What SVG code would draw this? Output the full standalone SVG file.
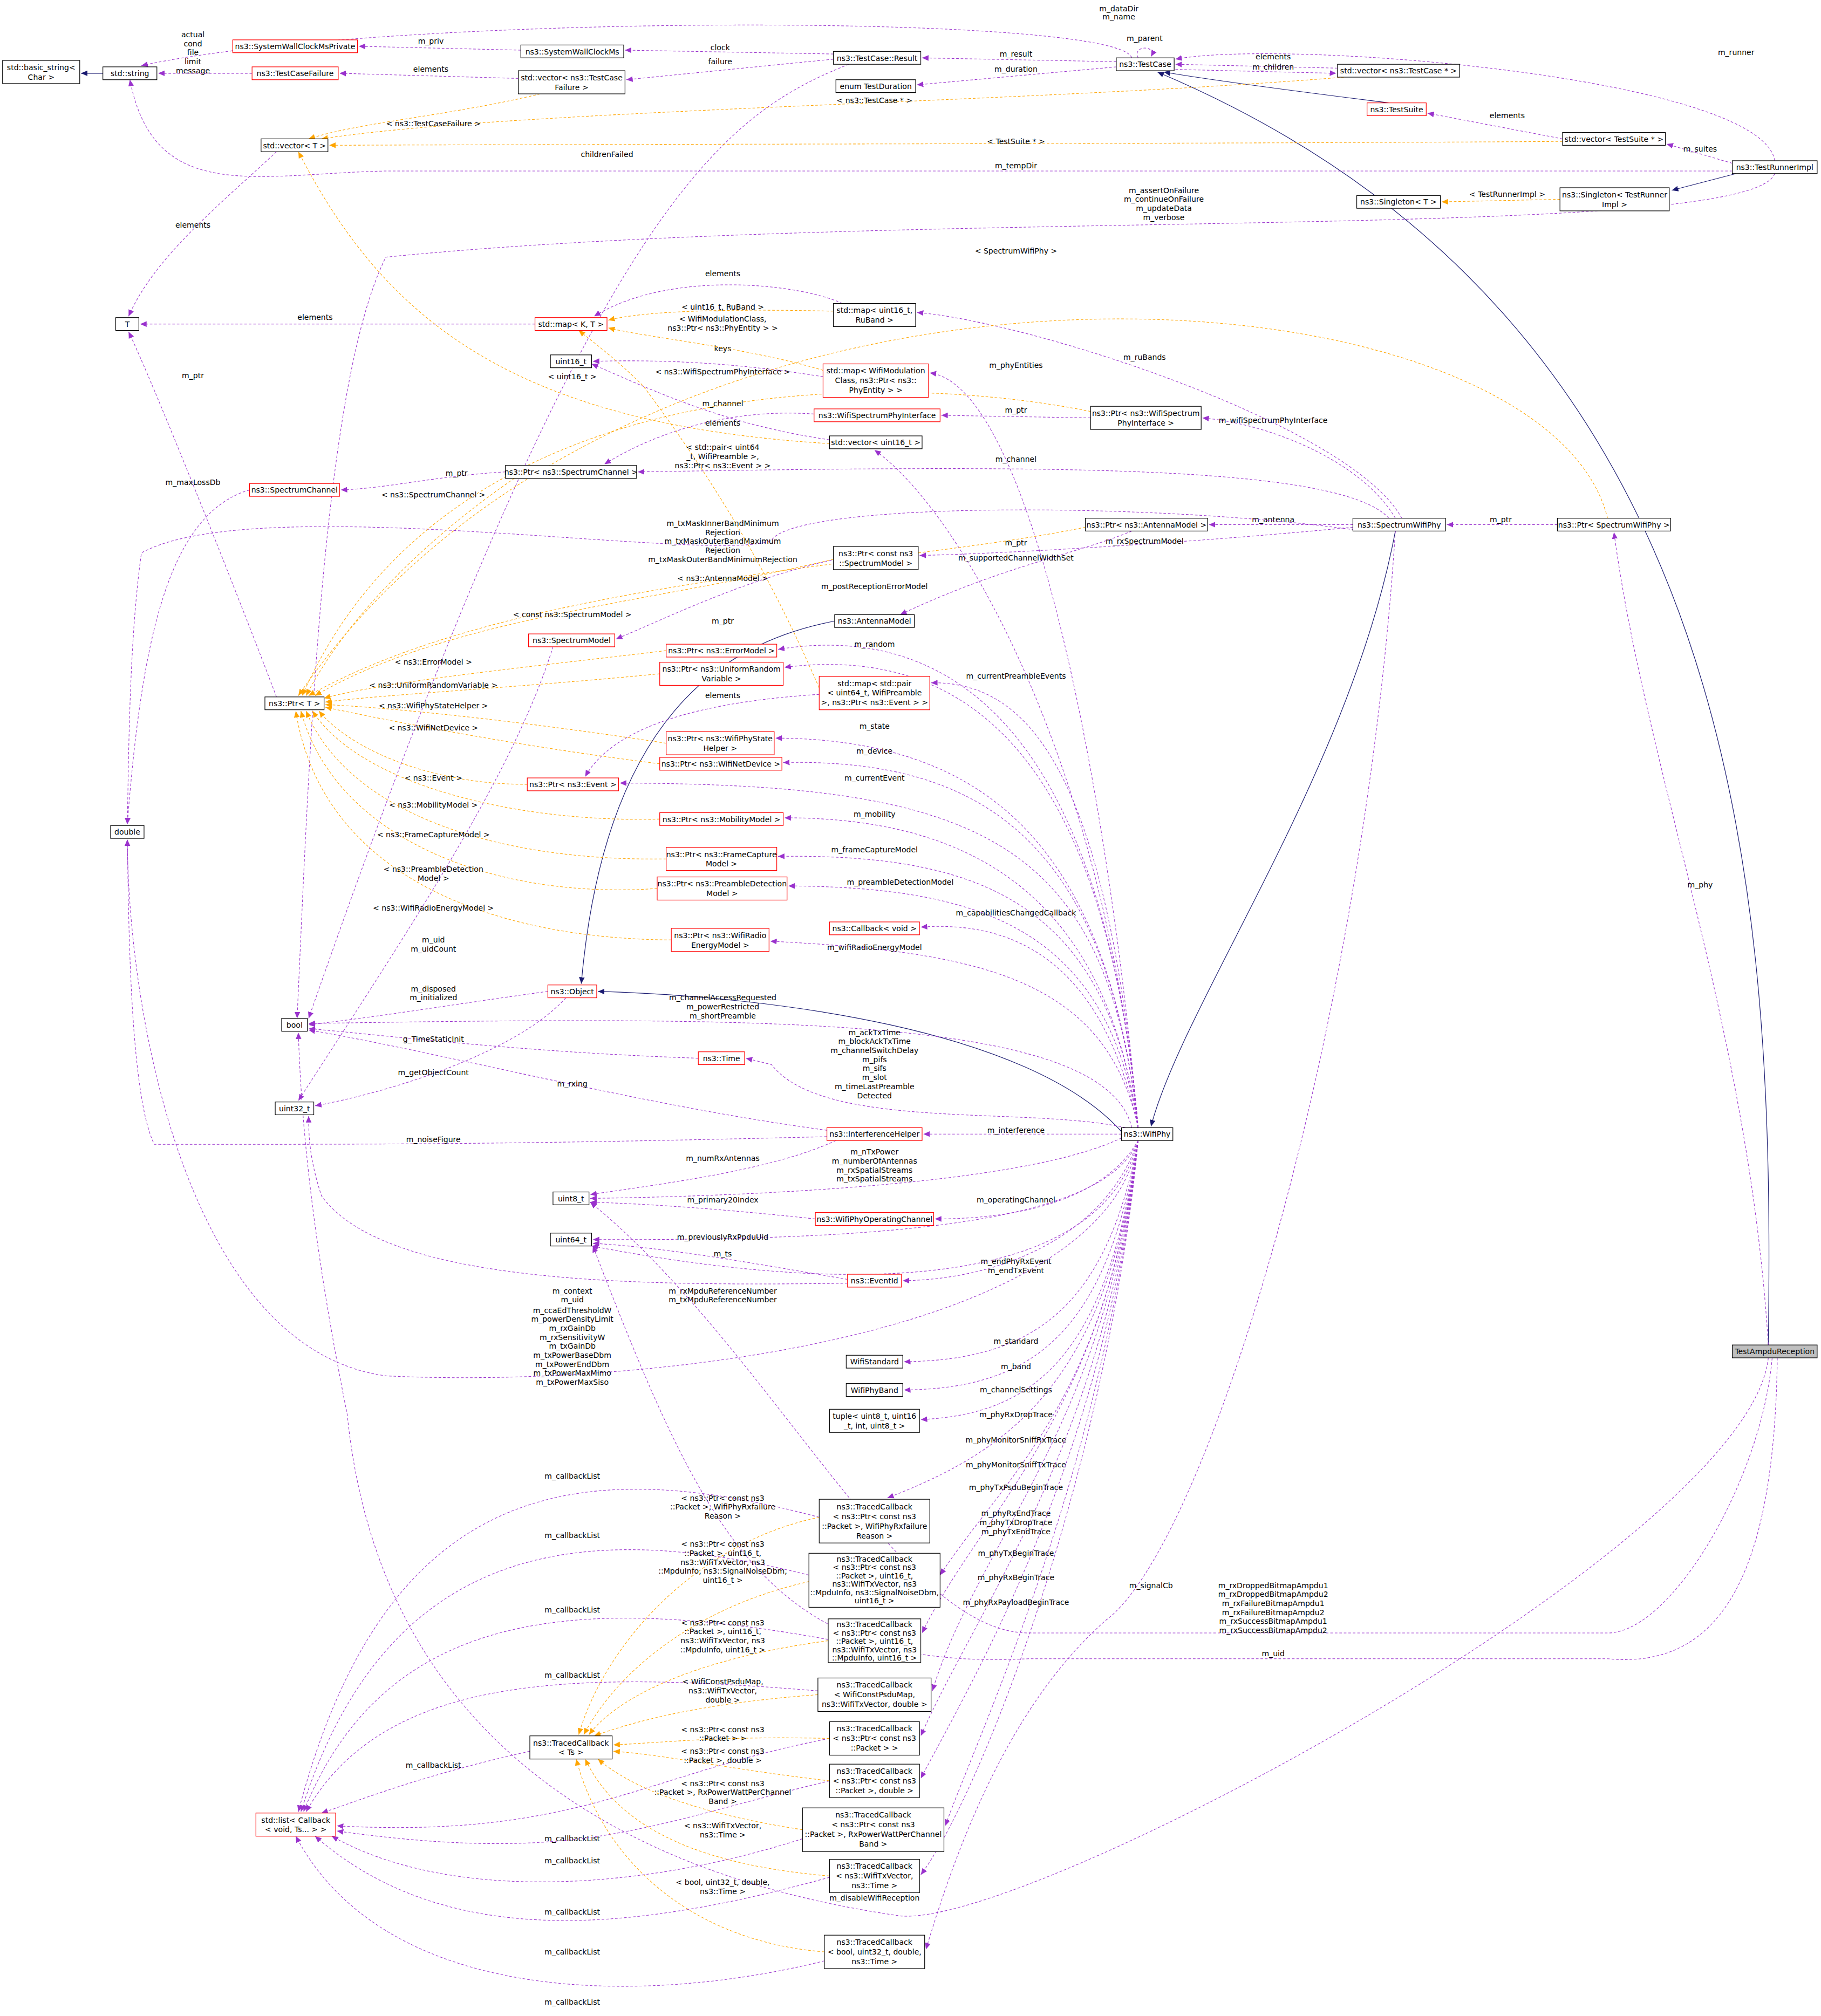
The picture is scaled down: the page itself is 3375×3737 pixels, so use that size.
<svg xmlns="http://www.w3.org/2000/svg" width="3375" height="3737" viewBox="0 0 3375 3737">
<defs>
<style>
text{font-family:"DejaVu Sans","Liberation Sans",sans-serif;font-size:5.9px;fill:#000;text-anchor:middle}
.n rect{fill:#fff;stroke:#000;stroke-width:0.5}
.r rect{fill:#fff;stroke:#ff0000;stroke-width:0.5}
.g rect{fill:#bfbfbf;stroke:#000;stroke-width:0.5}
.p{fill:none;stroke:#9a32cd;stroke-width:0.45;stroke-dasharray:2,1.5;marker-end:url(#ap)}
.o{fill:none;stroke:#ffa500;stroke-width:0.45;stroke-dasharray:2,1.5;marker-end:url(#ao)}
.b{fill:none;stroke:#191970;stroke-width:0.5;marker-end:url(#ab)}
</style>
<marker id="ap" markerWidth="6" markerHeight="6" refX="5" refY="3" orient="auto" markerUnits="userSpaceOnUse"><path d="M0,0.8 L5,3 L0,5.2 z" fill="#9a32cd"/></marker>
<marker id="ao" markerWidth="6" markerHeight="6" refX="5" refY="3" orient="auto" markerUnits="userSpaceOnUse"><path d="M0,0.8 L5,3 L0,5.2 z" fill="#ffa500"/></marker>
<marker id="ab" markerWidth="6" markerHeight="6" refX="5" refY="3" orient="auto" markerUnits="userSpaceOnUse"><path d="M0,0.8 L5,3 L0,5.2 z" fill="#191970"/></marker>
</defs>
<rect width="3375" height="3737" fill="#fff"/>
<g transform="scale(2.3835)">
<g id="edges">
<path class="b" d="M80,57 L63,57"/>
<path class="b" d="M1080,80 C1000,70 940,62 905,56"/>
<path class="b" d="M1350,135 L1300,148"/>
<path class="b" d="M1375,1046 C1380,700 1360,250 900,56"/>
<path class="b" d="M649,483 C560,500 470,560 452,765"/>
<path class="b" d="M872,880 C800,800 600,775 465,771"/>
<path class="b" d="M1085,413 C1050,600 920,780 895,876"/>
<path class="p" d="M880,45 C870,10 300,10 110,51"/>
<text x="870" y="9">m_dataDir</text><text x="870" y="15">m_name</text>
<path class="p" d="M885,45 C880,35 900,35 895,44"/><text x="890" y="32">m_parent</text>
<path class="p" d="M868,48 L717,45"/><text x="790" y="44">m_result</text>
<path class="p" d="M868,52 L713,66"/><text x="790" y="56">m_duration</text>
<path class="p" d="M1040,53 L914,50"/><text x="990" y="46">elements</text>
<path class="p" d="M914,54 L1039,57"/><text x="990" y="54">m_children</text>
<path class="p" d="M1380,125 C1370,60 1000,30 914,46"/><text x="1350" y="43">m_runner</text>
<path class="p" d="M648,42 L486,39"/><text x="560" y="39">clock</text>
<path class="p" d="M648,46 L487,62"/><text x="560" y="50">failure</text>
<path class="p" d="M660,50 C560,90 460,160 240,792"/><text x="472" y="122">childrenFailed</text>
<path class="p" d="M405,39 L279,36"/><text x="335" y="34">m_priv</text>
<path class="p" d="M403,61 L264,57"/><text x="335" y="56">elements</text>
<path class="p" d="M196,57 L123,57"/>
<text x="150" y="29">actual</text><text x="150" y="36">cond</text><text x="150" y="43">file</text><text x="150" y="50">limit</text><text x="150" y="57">message</text>
<path class="p" d="M1215,108 L1110,88"/><text x="1172" y="92">elements</text>
<path class="p" d="M1347,127 L1296,112"/><text x="1322" y="118">m_suites</text>
<path class="p" d="M1347,133 L300,133 C200,135 120,160 101,62"/><text x="790" y="131">m_tempDir</text>
<path class="p" d="M1380,135 C1360,190 700,160 300,200 C250,300 240,600 231,792"/>
<text x="905" y="150">m_assertOnFailure</text><text x="905" y="157">m_continueOnFailure</text><text x="905" y="164">m_updateData</text><text x="905" y="171">m_verbose</text>
<path class="p" d="M215,118 C170,160 120,200 100,246"/><text x="150" y="177">elements</text>
<path class="p" d="M416,252 L109,252"/><text x="245" y="249">elements</text>
<path class="p" d="M655,236 C620,220 520,210 462,246"/><text x="562" y="215">elements</text>
<path class="p" d="M215,542 C180,450 120,300 100,258"/><text x="150" y="294">m_ptr</text>
<path class="p" d="M1090,403 C1050,330 800,250 713,243"/><text x="890" y="280">m_ruBands</text>
<path class="p" d="M885,877 C860,600 800,300 723,290"/><text x="790" y="286">m_phyEntities</text>
<path class="p" d="M848,325 L732,323"/><text x="790" y="321">m_ptr</text>
<path class="p" d="M1085,403 C1060,360 990,330 935,325"/><text x="990" y="329">m_wifiSpectrumPhyInterface</text>
<path class="p" d="M633,322 C580,318 520,330 470,361"/><text x="562" y="316">m_channel</text>
<path class="p" d="M645,342 C560,330 500,300 460,283"/><text x="562" y="331">elements</text>
<path class="p" d="M640,293 C560,280 500,280 461,281"/><text x="562" y="273">keys</text>
<path class="p" d="M1080,403 C1040,360 800,362 496,367"/><text x="790" y="359">m_channel</text>
<path class="p" d="M393,367 C340,370 300,380 265,381"/><text x="355" y="370">m_ptr</text>
<path class="p" d="M194,381 C130,400 110,500 99,641"/><text x="150" y="377">m_maxLossDb</text>
<path class="p" d="M1052,408 L940,408"/><text x="990" y="406">m_antenna</text>
<path class="p" d="M1052,410 C950,420 800,430 715,432"/><text x="890" y="423">m_rxSpectrumModel</text>
<path class="p" d="M1060,413 C900,390 620,390 600,420 C560,440 200,380 110,430 C100,500 100,600 99,641"/>
<text x="562" y="409">m_txMaskInnerBandMinimum</text><text x="562" y="416">Rejection</text><text x="562" y="423">m_txMaskOuterBandMaximum</text><text x="562" y="430">Rejection</text><text x="562" y="437">m_txMaskOuterBandMinimumRejection</text>
<path class="p" d="M1211,408 L1125,408"/><text x="1167" y="406">m_ptr</text>
<path class="p" d="M1375,1046 C1360,800 1280,600 1255,414"/><text x="1322" y="690">m_phy</text>
<path class="p" d="M880,413 C840,430 780,440 700,478"/><text x="790" y="424">m_ptr</text>
<path class="p" d="M650,435 C580,450 520,480 479,497"/><text x="562" y="485">m_ptr</text>
<path class="p" d="M885,877 C860,600 750,400 680,350"/><text x="790" y="436">m_supportedChannelWidthSet</text>
<path class="p" d="M885,877 C860,600 760,480 605,505"/><text x="680" y="458">m_postReceptionErrorModel</text>
<path class="p" d="M885,877 C860,600 760,500 610,519"/><text x="680" y="503">m_random</text>
<path class="p" d="M885,877 C860,600 800,530 724,531"/><text x="790" y="528">m_currentPreambleEvents</text>
<path class="p" d="M637,540 C560,545 480,560 455,604"/><text x="562" y="543">elements</text>
<path class="p" d="M885,877 C860,650 760,575 603,574"/><text x="680" y="567">m_state</text>
<path class="p" d="M885,877 C860,650 760,590 609,593"/><text x="680" y="586">m_device</text>
<path class="p" d="M885,877 C860,650 760,610 482,609"/><text x="680" y="607">m_currentEvent</text>
<path class="p" d="M885,877 C860,700 760,636 610,636"/><text x="680" y="635">m_mobility</text>
<path class="p" d="M885,877 C860,700 760,664 605,666"/><text x="680" y="663">m_frameCaptureModel</text>
<path class="p" d="M885,877 C860,720 760,690 613,689"/><text x="700" y="688">m_preambleDetectionModel</text>
<path class="p" d="M885,877 C860,760 800,715 716,721"/><text x="790" y="712">m_capabilitiesChangedCallback</text>
<path class="p" d="M885,877 C860,760 760,740 599,732"/><text x="680" y="739">m_wifiRadioEnergyModel</text>
<path class="p" d="M430,503 C400,600 320,720 232,856"/><text x="337" y="733">m_uid</text><text x="337" y="740">m_uidCount</text>
<path class="p" d="M426,771 C360,780 300,790 240,797"/><text x="337" y="771">m_disposed</text><text x="337" y="778">m_initialized</text>
<path class="p" d="M440,776 C400,820 300,850 245,860"/><text x="337" y="836">m_getObjectCount</text>
<path class="p" d="M880,877 C860,790 600,790 240,796"/><text x="562" y="778">m_channelAccessRequested</text><text x="562" y="785">m_powerRestricted</text><text x="562" y="792">m_shortPreamble</text>
<path class="p" d="M543,823 C400,818 300,805 240,800"/><text x="337" y="810">g_TimeStaticInit</text>
<path class="p" d="M875,877 C800,860 640,880 600,828 L580,823"/>
<text x="680" y="805">m_ackTxTime</text><text x="680" y="812">m_blockAckTxTime</text><text x="680" y="819">m_channelSwitchDelay</text><text x="680" y="826">m_pifs</text><text x="680" y="833">m_sifs</text><text x="680" y="840">m_slot</text><text x="680" y="847">m_timeLastPreamble</text><text x="680" y="854">Detected</text>
<path class="p" d="M643,879 C500,860 350,820 240,801"/><text x="445" y="845">m_rxing</text>
<path class="p" d="M643,884 C400,890 300,890 120,890 C100,850 100,700 99,653"/><text x="337" y="888">m_noiseFigure</text>
<path class="p" d="M872,882 L718,882"/><text x="790" y="881">m_interference</text>
<path class="p" d="M650,887 C600,910 520,920 459,929"/><text x="562" y="903">m_numRxAntennas</text>
<path class="p" d="M872,885 C800,920 600,930 459,932"/><text x="680" y="898">m_nTxPower</text><text x="680" y="905">m_numberOfAntennas</text><text x="680" y="912">m_rxSpatialStreams</text><text x="680" y="919">m_txSpatialStreams</text>
<path class="p" d="M634,948 C560,940 500,936 459,935"/><text x="562" y="935">m_primary20Index</text>
<path class="p" d="M885,887 C860,930 800,948 727,948"/><text x="790" y="935">m_operatingChannel</text>
<path class="p" d="M885,887 C860,950 700,965 461,964"/><text x="562" y="964">m_previouslyRxPpduUid</text>
<path class="p" d="M659,995 C600,985 520,970 461,967"/><text x="562" y="977">m_ts</text>
<path class="p" d="M659,998 C500,1000 300,1000 250,930 C240,900 240,880 240,868"/><text x="445" y="1006">m_context</text><text x="445" y="1013">m_uid</text>
<path class="p" d="M885,887 C860,960 780,995 702,996"/><text x="790" y="983">m_endPhyRxEvent</text><text x="790" y="990">m_endTxEvent</text>
<path class="p" d="M885,887 C860,990 700,1015 460,969"/><text x="562" y="1006">m_rxMpduReferenceNumber</text><text x="562" y="1013">m_txMpduReferenceNumber</text>
<path class="p" d="M885,887 C860,1040 500,1080 300,1070 C150,1050 100,800 99,653"/>
<text x="445" y="1021">m_ccaEdThresholdW</text><text x="445" y="1028">m_powerDensityLimit</text><text x="445" y="1035">m_rxGainDb</text><text x="445" y="1042">m_rxSensitivityW</text><text x="445" y="1049">m_txGainDb</text><text x="445" y="1056">m_txPowerBaseDbm</text><text x="445" y="1063">m_txPowerEndDbm</text><text x="445" y="1070">m_txPowerMaxMimo</text><text x="445" y="1077">m_txPowerMaxSiso</text>
<path class="p" d="M885,887 C860,1020 800,1058 703,1059"/><text x="790" y="1045">m_standard</text>
<path class="p" d="M885,887 C860,1040 800,1080 703,1081"/><text x="790" y="1065">m_band</text>
<path class="p" d="M885,887 C860,1060 800,1100 716,1104"/><text x="790" y="1083">m_channelSettings</text>
<path class="p" d="M885,887 C860,1080 780,1130 690,1165"/><text x="790" y="1102">m_phyRxDropTrace</text>
<path class="p" d="M885,887 C860,1090 780,1150 731,1225"/><text x="790" y="1122">m_phyMonitorSniffRxTrace</text>
<path class="p" d="M885,887 C860,1100 760,1180 717,1270"/><text x="790" y="1141">m_phyMonitorSniffTxTrace</text>
<path class="p" d="M885,887 C860,1110 760,1200 725,1315"/><text x="790" y="1159">m_phyTxPsduBeginTrace</text>
<path class="p" d="M885,887 C860,1120 760,1250 716,1350"/><text x="790" y="1179">m_phyRxEndTrace</text><text x="790" y="1186">m_phyTxDropTrace</text><text x="790" y="1193">m_phyTxEndTrace</text>
<path class="p" d="M885,887 C860,1130 760,1300 716,1383"/><text x="790" y="1210">m_phyTxBeginTrace</text>
<path class="p" d="M885,887 C860,1140 760,1350 735,1420"/><text x="790" y="1229">m_phyRxBeginTrace</text>
<path class="p" d="M885,887 C860,1150 760,1400 716,1458"/><text x="790" y="1248">m_phyRxPayloadBeginTrace</text>
<path class="p" d="M1085,413 C1060,800 940,1200 860,1260 C780,1330 740,1450 720,1516"/><text x="895" y="1235">m_signalCb</text>
<path class="p" d="M1378,1056 C1370,1150 1300,1270 1250,1270 L800,1270 C700,1270 600,1050 459,935"/>
<text x="990" y="1235">m_rxDroppedBitmapAmpdu1</text><text x="990" y="1242">m_rxDroppedBitmapAmpdu2</text><text x="990" y="1249">m_rxFailureBitmapAmpdu1</text><text x="990" y="1256">m_rxFailureBitmapAmpdu2</text><text x="990" y="1263">m_rxSuccessBitmapAmpdu1</text><text x="990" y="1270">m_rxSuccessBitmapAmpdu2</text>
<path class="p" d="M1382,1056 C1380,1200 1350,1300 1250,1290 L800,1290 C600,1300 550,1200 461,969"/><text x="990" y="1288">m_uid</text>
<path class="p" d="M1375,1056 C1360,1200 800,1500 700,1490 C560,1470 300,1400 270,1100 C250,1000 235,900 232,803"/><text x="680" y="1478">m_disableWifiReception</text>
<path class="p" d="M637,1180 C450,1130 300,1150 232,1409"/><text x="445" y="1150">m_callbackList</text>
<path class="p" d="M629,1225 C450,1180 300,1200 234,1409"/><text x="445" y="1196">m_callbackList</text>
<path class="p" d="M644,1275 C450,1240 300,1250 236,1409"/><text x="445" y="1254">m_callbackList</text>
<path class="p" d="M636,1315 C450,1300 300,1300 238,1409"/><text x="445" y="1305">m_callbackList</text>
<path class="p" d="M412,1362 C330,1380 280,1400 250,1410"/><text x="337" y="1375">m_callbackList</text>
<path class="p" d="M645,1352 C500,1380 450,1430 262,1420"/><text x="445" y="1432">m_callbackList</text>
<path class="p" d="M645,1385 C500,1420 450,1450 262,1424"/><text x="445" y="1449">m_callbackList</text>
<path class="p" d="M624,1430 C500,1470 350,1480 258,1428"/><text x="445" y="1489">m_callbackList</text>
<path class="p" d="M645,1460 C500,1500 350,1520 245,1428"/><text x="445" y="1520">m_callbackList</text>
<path class="p" d="M641,1525 C500,1560 300,1560 230,1428"/><text x="445" y="1559">m_callbackList</text>
<path class="o" d="M1045,60 C800,80 400,85 250,108"/><text x="680" y="80">&lt; ns3::TestCase * &gt;</text>
<path class="o" d="M420,73 C350,90 280,95 240,108"/><text x="337" y="98">&lt; ns3::TestCaseFailure &gt;</text>
<path class="o" d="M1215,110 C900,112 500,112 256,113"/><text x="790" y="112">&lt; TestSuite * &gt;</text>
<path class="o" d="M1213,155 L1121,157"/><text x="1172" y="153">&lt; TestRunnerImpl &gt;</text>
<path class="o" d="M648,242 C560,240 500,242 473,249"/><text x="562" y="241">&lt; uint16_t, RuBand &gt;</text>
<path class="o" d="M640,288 C580,270 500,262 473,255"/><text x="562" y="250">&lt; WifiModulationClass,</text><text x="562" y="257">ns3::Ptr&lt; ns3::PhyEntity &gt; &gt;</text>
<path class="o" d="M645,345 C400,330 300,250 232,118"/><text x="445" y="295">&lt; uint16_t &gt;</text>
<path class="o" d="M637,535 C600,450 560,380 500,300 C480,280 460,265 450,257"/><text x="562" y="350">&lt; std::pair&lt; uint64</text><text x="562" y="357">_t, WifiPreamble &gt;,</text><text x="562" y="364">ns3::Ptr&lt; ns3::Event &gt; &gt;</text>
<path class="o" d="M848,320 C700,290 350,280 235,541"/><text x="562" y="291">&lt; ns3::WifiSpectrumPhyInterface &gt;</text>
<path class="o" d="M1250,403 C1200,200 500,150 232,541"/><text x="790" y="197">&lt; SpectrumWifiPhy &gt;</text>
<path class="o" d="M400,372 C330,420 270,480 238,541"/><text x="337" y="387">&lt; ns3::SpectrumChannel &gt;</text>
<path class="o" d="M844,410 C700,440 400,450 240,541"/><text x="562" y="452">&lt; ns3::AntennaModel &gt;</text>
<path class="o" d="M648,435 C500,470 350,480 245,541"/><text x="445" y="480">&lt; const ns3::SpectrumModel &gt;</text>
<path class="o" d="M518,506 C400,520 300,530 252,543"/><text x="337" y="517">&lt; ns3::ErrorModel &gt;</text>
<path class="o" d="M513,524 C400,535 300,540 253,546"/><text x="337" y="535">&lt; ns3::UniformRandomVariable &gt;</text>
<path class="o" d="M518,578 C400,560 300,550 253,548"/><text x="337" y="551">&lt; ns3::WifiPhyStateHelper &gt;</text>
<path class="o" d="M513,594 C400,580 300,560 253,550"/><text x="337" y="568">&lt; ns3::WifiNetDevice &gt;</text>
<path class="o" d="M410,610 C330,610 270,580 248,553"/><text x="337" y="607">&lt; ns3::Event &gt;</text>
<path class="o" d="M513,637 C400,640 280,610 243,553"/><text x="337" y="628">&lt; ns3::MobilityModel &gt;</text>
<path class="o" d="M518,668 C380,670 270,630 238,553"/><text x="337" y="651">&lt; ns3::FrameCaptureModel &gt;</text>
<path class="o" d="M511,691 C380,700 260,650 234,553"/><text x="337" y="678">&lt; ns3::PreambleDetection</text><text x="337" y="685">Model &gt;</text>
<path class="o" d="M522,731 C380,730 250,680 230,553"/><text x="337" y="708">&lt; ns3::WifiRadioEnergyModel &gt;</text>
<path class="o" d="M637,1180 C540,1200 470,1280 450,1349"/><text x="562" y="1167">&lt; ns3::Ptr&lt; const ns3</text><text x="562" y="1174">::Packet &gt;, WifiPhyRxfailure</text><text x="562" y="1181">Reason &gt;</text>
<path class="o" d="M629,1230 C540,1250 480,1300 454,1349"/><text x="562" y="1203">&lt; ns3::Ptr&lt; const ns3</text><text x="562" y="1210">::Packet &gt;, uint16_t,</text><text x="562" y="1217">ns3::WifiTxVector, ns3</text><text x="562" y="1224">::MpduInfo, ns3::SignalNoiseDbm,</text><text x="562" y="1231">uint16_t &gt;</text>
<path class="o" d="M644,1276 C540,1290 480,1320 458,1349"/><text x="562" y="1264">&lt; ns3::Ptr&lt; const ns3</text><text x="562" y="1271">::Packet &gt;, uint16_t,</text><text x="562" y="1278">ns3::WifiTxVector, ns3</text><text x="562" y="1285">::MpduInfo, uint16_t &gt;</text>
<path class="o" d="M636,1318 C540,1325 490,1340 462,1350"/><text x="562" y="1310">&lt; WifiConstPsduMap,</text><text x="562" y="1317">ns3::WifiTxVector,</text><text x="562" y="1324">double &gt;</text>
<path class="o" d="M645,1352 C560,1350 520,1355 477,1357"/><text x="562" y="1347">&lt; ns3::Ptr&lt; const ns3</text><text x="562" y="1354">::Packet &gt; &gt;</text>
<path class="o" d="M645,1385 C560,1375 520,1365 477,1362"/><text x="562" y="1364">&lt; ns3::Ptr&lt; const ns3</text><text x="562" y="1371">::Packet &gt;, double &gt;</text>
<path class="o" d="M624,1423 C540,1410 490,1390 465,1368"/><text x="562" y="1389">&lt; ns3::Ptr&lt; const ns3</text><text x="562" y="1396">::Packet &gt;, RxPowerWattPerChannel</text><text x="562" y="1403">Band &gt;</text>
<path class="o" d="M645,1459 C540,1450 480,1420 455,1368"/><text x="562" y="1422">&lt; ns3::WifiTxVector,</text><text x="562" y="1429">ns3::Time &gt;</text>
<path class="o" d="M641,1518 C540,1510 470,1450 448,1368"/><text x="562" y="1466">&lt; bool, uint32_t, double,</text><text x="562" y="1473">ns3::Time &gt;</text>
</g>
<g id="basic_string" class="n"><rect x="2" y="47" width="60" height="18"/><text x="32" y="54.5">std::basic_string&lt;</text><text x="32" y="62">Char &gt;</text></g>
<g id="std_string" class="n"><rect x="80" y="52" width="42" height="10"/><text x="101" y="59.2">std::string</text></g>
<g id="SystemWallClockMsPrivate" class="r"><rect x="181" y="31" width="97" height="10"/><text x="229.5" y="38.2">ns3::SystemWallClockMsPrivate</text></g>
<g id="SystemWallClockMs" class="n"><rect x="405" y="35" width="80" height="10"/><text x="445" y="42.2">ns3::SystemWallClockMs</text></g>
<g id="TestCaseFailure" class="r"><rect x="196" y="52" width="67" height="10"/><text x="229.5" y="59.2">ns3::TestCaseFailure</text></g>
<g id="vector_TestCaseFailure" class="n"><rect x="403" y="55" width="83" height="18"/><text x="444.5" y="62.5">std::vector&lt; ns3::TestCase</text><text x="444.5" y="70">Failure &gt;</text></g>
<g id="TestCase_Result" class="n"><rect x="648" y="40" width="68" height="10"/><text x="682" y="47.2">ns3::TestCase::Result</text></g>
<g id="TestDuration" class="n"><rect x="650" y="62" width="62" height="10"/><text x="681" y="69.2">enum TestDuration</text></g>
<g id="TestCase" class="n"><rect x="868" y="45" width="45" height="10"/><text x="890.5" y="52.2">ns3::TestCase</text></g>
<g id="vector_TestCase" class="n"><rect x="1040" y="50" width="95" height="10"/><text x="1087.5" y="57.2">std::vector&lt; ns3::TestCase * &gt;</text></g>
<g id="TestSuite" class="r"><rect x="1063" y="80" width="46" height="10"/><text x="1086" y="87.2">ns3::TestSuite</text></g>
<g id="vector_TestSuite" class="n"><rect x="1215" y="103" width="80" height="10"/><text x="1255" y="110.2">std::vector&lt; TestSuite * &gt;</text></g>
<g id="TestRunnerImpl" class="n"><rect x="1347" y="125" width="66" height="10"/><text x="1380" y="132.2">ns3::TestRunnerImpl</text></g>
<g id="Singleton_T" class="n"><rect x="1055" y="152" width="65" height="10"/><text x="1087.5" y="159.2">ns3::Singleton&lt; T &gt;</text></g>
<g id="Singleton_TRI" class="n"><rect x="1213" y="146" width="85" height="18"/><text x="1255.5" y="153.5">ns3::Singleton&lt; TestRunner</text><text x="1255.5" y="161">Impl &gt;</text></g>
<g id="vector_T" class="n"><rect x="203" y="108" width="52" height="10"/><text x="229" y="115.2">std::vector&lt; T &gt;</text></g>
<g id="T" class="n"><rect x="90" y="247" width="18" height="10"/><text x="99" y="254.2">T</text></g>
<g id="map_KT" class="r"><rect x="416" y="247" width="56" height="10"/><text x="444" y="254.2">std::map&lt; K, T &gt;</text></g>
<g id="map_RuBand" class="n"><rect x="648" y="236" width="64" height="18"/><text x="680" y="243.5">std::map&lt; uint16_t,</text><text x="680" y="251">RuBand &gt;</text></g>
<g id="uint16_t" class="n"><rect x="428" y="276" width="32" height="10"/><text x="444" y="283.2">uint16_t</text></g>
<g id="map_WifiModulation" class="r"><rect x="640" y="283" width="82" height="26"/><text x="681" y="290.5">std::map&lt; WifiModulation</text><text x="681" y="298">Class, ns3::Ptr&lt; ns3::</text><text x="681" y="305.5">PhyEntity &gt; &gt;</text></g>
<g id="WifiSpectrumPhyInterface" class="r"><rect x="633" y="318" width="98" height="10"/><text x="682" y="325.2">ns3::WifiSpectrumPhyInterface</text></g>
<g id="Ptr_WSPI" class="n"><rect x="848" y="316" width="86" height="18"/><text x="891" y="323.5">ns3::Ptr&lt; ns3::WifiSpectrum</text><text x="891" y="331">PhyInterface &gt;</text></g>
<g id="vector_uint16" class="n"><rect x="645" y="339" width="72" height="10"/><text x="681" y="346.2">std::vector&lt; uint16_t &gt;</text></g>
<g id="Ptr_SpectrumChannel" class="n"><rect x="393" y="362" width="102" height="10"/><text x="444" y="369.2">ns3::Ptr&lt; ns3::SpectrumChannel &gt;</text></g>
<g id="SpectrumChannel" class="r"><rect x="194" y="376" width="70" height="10"/><text x="229" y="383.2">ns3::SpectrumChannel</text></g>
<g id="Ptr_AntennaModel" class="n"><rect x="844" y="403" width="95" height="10"/><text x="891.5" y="410.2">ns3::Ptr&lt; ns3::AntennaModel &gt;</text></g>
<g id="SpectrumWifiPhy" class="n"><rect x="1052" y="403" width="72" height="10"/><text x="1088" y="410.2">ns3::SpectrumWifiPhy</text></g>
<g id="Ptr_SpectrumWifiPhy" class="n"><rect x="1211" y="403" width="88" height="10"/><text x="1255" y="410.2">ns3::Ptr&lt; SpectrumWifiPhy &gt;</text></g>
<g id="Ptr_SpectrumModel" class="n"><rect x="648" y="425" width="66" height="18"/><text x="681" y="432.5">ns3::Ptr&lt; const ns3</text><text x="681" y="440">::SpectrumModel &gt;</text></g>
<g id="AntennaModel" class="n"><rect x="649" y="478" width="62" height="10"/><text x="680" y="485.2">ns3::AntennaModel</text></g>
<g id="SpectrumModel" class="r"><rect x="411" y="493" width="67" height="10"/><text x="444.5" y="500.2">ns3::SpectrumModel</text></g>
<g id="Ptr_ErrorModel" class="r"><rect x="518" y="501" width="86" height="10"/><text x="561" y="508.2">ns3::Ptr&lt; ns3::ErrorModel &gt;</text></g>
<g id="Ptr_URV" class="r"><rect x="513" y="515" width="96" height="18"/><text x="561" y="522.5">ns3::Ptr&lt; ns3::UniformRandom</text><text x="561" y="530">Variable &gt;</text></g>
<g id="map_pair" class="r"><rect x="637" y="526" width="86" height="26"/><text x="680" y="533.5">std::map&lt; std::pair</text><text x="680" y="541">&lt; uint64_t, WifiPreamble</text><text x="680" y="548.5">&gt;, ns3::Ptr&lt; ns3::Event &gt; &gt;</text></g>
<g id="Ptr_T" class="n"><rect x="206" y="542" width="46" height="10"/><text x="229" y="549.2">ns3::Ptr&lt; T &gt;</text></g>
<g id="Ptr_WPSH" class="r"><rect x="518" y="569" width="84" height="18"/><text x="560" y="576.5">ns3::Ptr&lt; ns3::WifiPhyState</text><text x="560" y="584">Helper &gt;</text></g>
<g id="Ptr_WifiNetDevice" class="r"><rect x="513" y="589" width="95" height="10"/><text x="560.5" y="596.2">ns3::Ptr&lt; ns3::WifiNetDevice &gt;</text></g>
<g id="Ptr_Event" class="r"><rect x="410" y="605" width="71" height="10"/><text x="445.5" y="612.2">ns3::Ptr&lt; ns3::Event &gt;</text></g>
<g id="double" class="n"><rect x="86" y="642" width="26" height="10"/><text x="99" y="649.2">double</text></g>
<g id="Ptr_Mobility" class="r"><rect x="513" y="632" width="96" height="10"/><text x="561" y="639.2">ns3::Ptr&lt; ns3::MobilityModel &gt;</text></g>
<g id="Ptr_FrameCapture" class="r"><rect x="518" y="659" width="86" height="18"/><text x="561" y="666.5">ns3::Ptr&lt; ns3::FrameCapture</text><text x="561" y="674">Model &gt;</text></g>
<g id="Ptr_Preamble" class="r"><rect x="511" y="682" width="101" height="18"/><text x="561.5" y="689.5">ns3::Ptr&lt; ns3::PreambleDetection</text><text x="561.5" y="697">Model &gt;</text></g>
<g id="Callback_void" class="r"><rect x="645" y="717" width="70" height="10"/><text x="680" y="724.2">ns3::Callback&lt; void &gt;</text></g>
<g id="Ptr_Energy" class="r"><rect x="522" y="722" width="76" height="18"/><text x="560" y="729.5">ns3::Ptr&lt; ns3::WifiRadio</text><text x="560" y="737">EnergyModel &gt;</text></g>
<g id="Object" class="r"><rect x="426" y="766" width="38" height="10"/><text x="445" y="773.2">ns3::Object</text></g>
<g id="bool" class="n"><rect x="219" y="792" width="20" height="10"/><text x="229" y="799.2">bool</text></g>
<g id="Time" class="r"><rect x="543" y="818" width="36" height="10"/><text x="561" y="825.2">ns3::Time</text></g>
<g id="uint32_t" class="n"><rect x="214" y="857" width="30" height="10"/><text x="229" y="864.2">uint32_t</text></g>
<g id="InterferenceHelper" class="r"><rect x="643" y="877" width="74" height="10"/><text x="680" y="884.2">ns3::InterferenceHelper</text></g>
<g id="WifiPhy" class="n"><rect x="872" y="877" width="40" height="10"/><text x="892" y="884.2">ns3::WifiPhy</text></g>
<g id="uint8_t" class="n"><rect x="430" y="927" width="28" height="10"/><text x="444" y="934.2">uint8_t</text></g>
<g id="WifiPhyOperatingChannel" class="r"><rect x="634" y="943" width="92" height="10"/><text x="680" y="950.2">ns3::WifiPhyOperatingChannel</text></g>
<g id="uint64_t" class="n"><rect x="428" y="959" width="32" height="10"/><text x="444" y="966.2">uint64_t</text></g>
<g id="EventId" class="r"><rect x="659" y="991" width="42" height="10"/><text x="680" y="998.2">ns3::EventId</text></g>
<g id="WifiStandard" class="n"><rect x="658" y="1054" width="44" height="10"/><text x="680" y="1061.2">WifiStandard</text></g>
<g id="WifiPhyBand" class="n"><rect x="658" y="1076" width="44" height="10"/><text x="680" y="1083.2">WifiPhyBand</text></g>
<g id="tuple" class="n"><rect x="645" y="1096" width="70" height="18"/><text x="680" y="1103.5">tuple&lt; uint8_t, uint16</text><text x="680" y="1111">_t, int, uint8_t &gt;</text></g>
<g id="TestAmpduReception" class="g"><rect x="1347" y="1046" width="66" height="10"/><text x="1380" y="1053.2">TestAmpduReception</text></g>
<g id="TC_RxFailure" class="n"><rect x="637" y="1166" width="86" height="34"/><text x="680" y="1174">ns3::TracedCallback</text><text x="680" y="1181.5">&lt; ns3::Ptr&lt; const ns3</text><text x="680" y="1189">::Packet &gt;, WifiPhyRxfailure</text><text x="680" y="1196.5">Reason &gt;</text></g>
<g id="TC_SignalNoise" class="n"><rect x="629" y="1208" width="102" height="42"/><text x="680" y="1214.5">ns3::TracedCallback</text><text x="680" y="1221">&lt; ns3::Ptr&lt; const ns3</text><text x="680" y="1227.5">::Packet &gt;, uint16_t,</text><text x="680" y="1234">ns3::WifiTxVector, ns3</text><text x="680" y="1240.5">::MpduInfo, ns3::SignalNoiseDbm,</text><text x="680" y="1247">uint16_t &gt;</text></g>
<g id="TC_MpduInfo" class="n"><rect x="644" y="1259" width="72" height="34"/><text x="680" y="1265.5">ns3::TracedCallback</text><text x="680" y="1272">&lt; ns3::Ptr&lt; const ns3</text><text x="680" y="1278.5">::Packet &gt;, uint16_t,</text><text x="680" y="1285">ns3::WifiTxVector, ns3</text><text x="680" y="1291.5">::MpduInfo, uint16_t &gt;</text></g>
<g id="TC_Psdu" class="n"><rect x="636" y="1305" width="88" height="26"/><text x="680" y="1312.5">ns3::TracedCallback</text><text x="680" y="1320">&lt; WifiConstPsduMap,</text><text x="680" y="1327.5">ns3::WifiTxVector, double &gt;</text></g>
<g id="TC_Ts" class="n"><rect x="412" y="1350" width="64" height="18"/><text x="444" y="1357.5">ns3::TracedCallback</text><text x="444" y="1365">&lt; Ts &gt;</text></g>
<g id="TC_Packet" class="n"><rect x="645" y="1339" width="70" height="26"/><text x="680" y="1346.5">ns3::TracedCallback</text><text x="680" y="1354">&lt; ns3::Ptr&lt; const ns3</text><text x="680" y="1361.5">::Packet &gt; &gt;</text></g>
<g id="TC_PacketDouble" class="n"><rect x="645" y="1372" width="70" height="26"/><text x="680" y="1379.5">ns3::TracedCallback</text><text x="680" y="1387">&lt; ns3::Ptr&lt; const ns3</text><text x="680" y="1394.5">::Packet &gt;, double &gt;</text></g>
<g id="list_Callback" class="r"><rect x="199" y="1410" width="62" height="18"/><text x="230" y="1417.5">std::list&lt; Callback</text><text x="230" y="1425">&lt; void, Ts... &gt; &gt;</text></g>
<g id="TC_RxPower" class="n"><rect x="624" y="1406" width="110" height="34"/><text x="679" y="1413.5">ns3::TracedCallback</text><text x="679" y="1421">&lt; ns3::Ptr&lt; const ns3</text><text x="679" y="1428.5">::Packet &gt;, RxPowerWattPerChannel</text><text x="679" y="1436">Band &gt;</text></g>
<g id="TC_TxVector" class="n"><rect x="645" y="1446" width="70" height="26"/><text x="680" y="1453.5">ns3::TracedCallback</text><text x="680" y="1461">&lt; ns3::WifiTxVector,</text><text x="680" y="1468.5">ns3::Time &gt;</text></g>
<g id="TC_bool" class="n"><rect x="641" y="1505" width="78" height="26"/><text x="680" y="1512.5">ns3::TracedCallback</text><text x="680" y="1520">&lt; bool, uint32_t, double,</text><text x="680" y="1527.5">ns3::Time &gt;</text></g>
</g>
</svg>
